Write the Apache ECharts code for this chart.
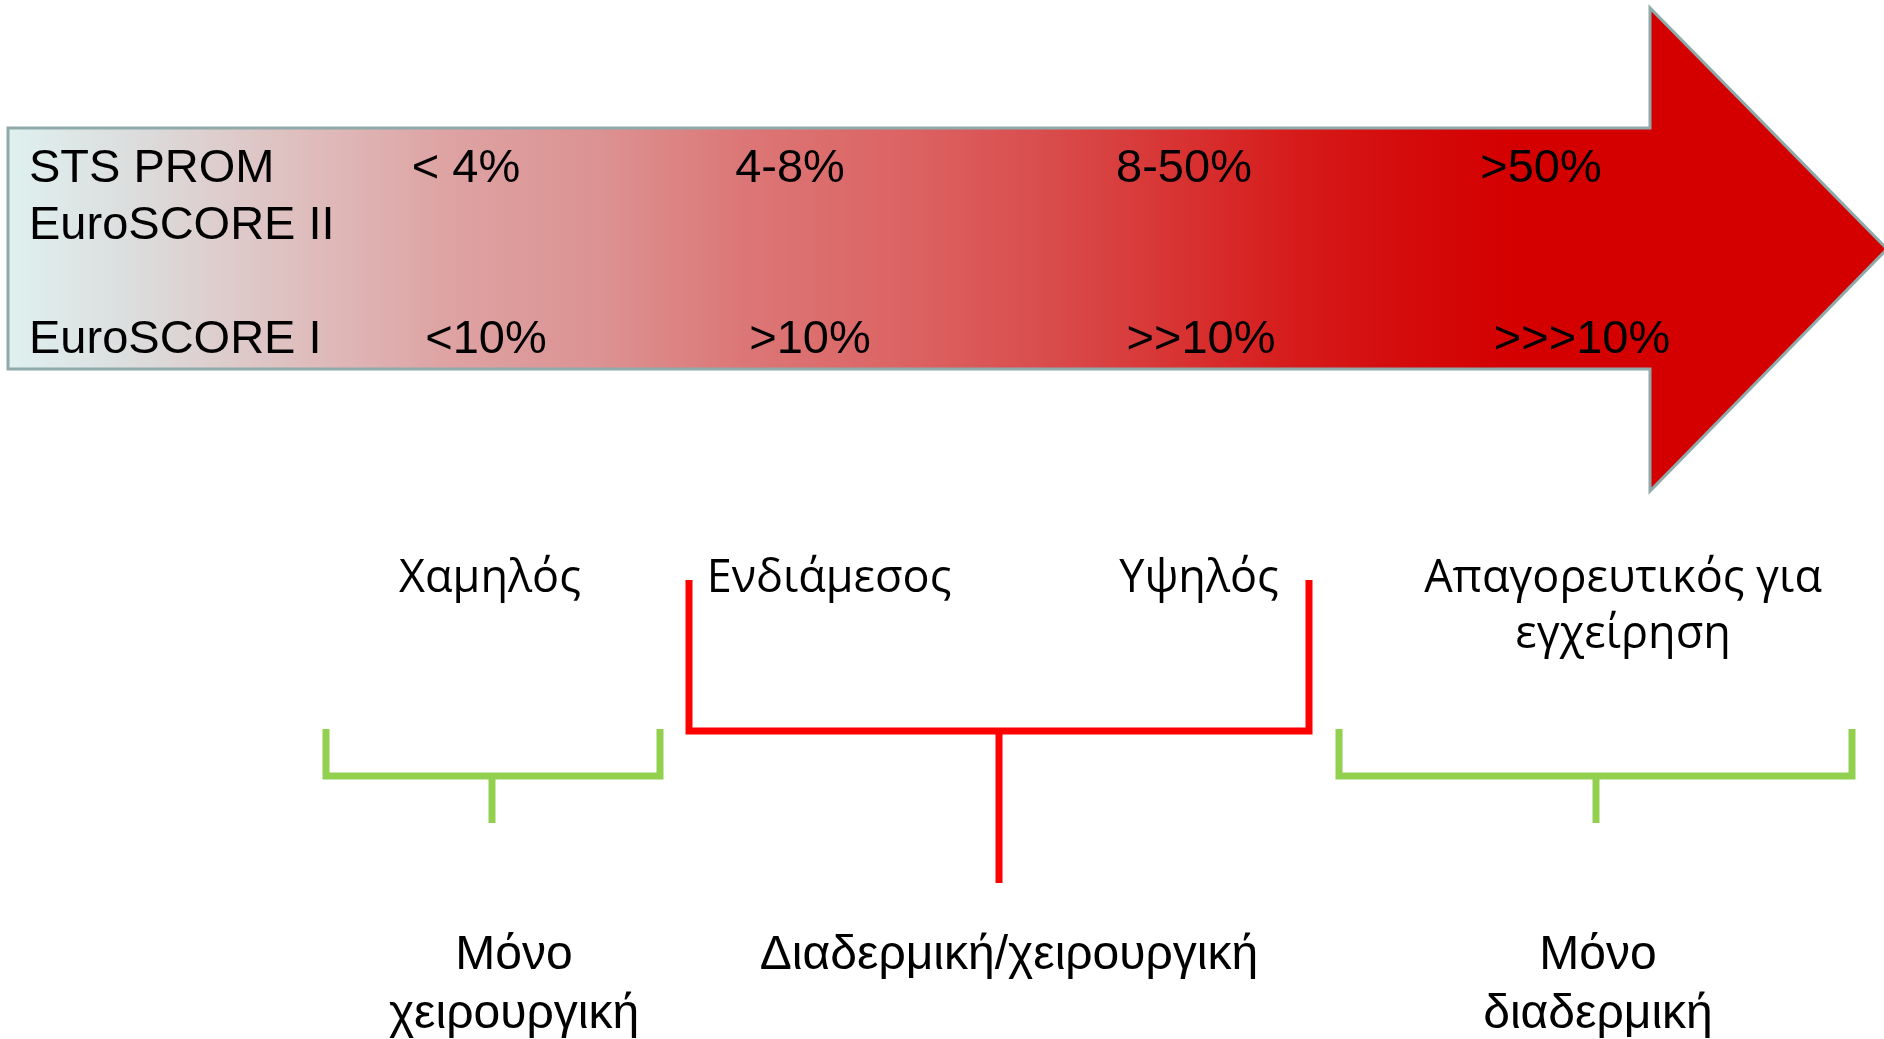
<!DOCTYPE html>
<html>
<head>
<meta charset="utf-8">
<script src="https://cdn.jsdelivr.net/npm/echarts@6/dist/echarts.min.js"></script>
<style>
  html, body { margin: 0; padding: 0; background: #fff; }
  #main { width: 1884px; height: 1039px; }
</style>
</head>
<body>
<div id="main"></div>
<script>
// ---- texts ----
var scoreNames = ['STS PROM', 'EuroSCORE II', 'EuroSCORE I'];
var stsRanges = ['< 4%', '4-8%', '8-50%', '>50%'];
var euroScoreIRanges = ['<10%', '>10%', '>>10%', '>>>10%'];
var riskLevels = ['Χαμηλός', 'Ενδιάμεσος', 'Υψηλός', 'Απαγορευτικός για\nεγχείρηση'];
var treatments = ['Μόνο\nχειρουργική', 'Διαδερμική/χειρουργική', 'Μόνο\nδιαδερμική'];

// ---- layout, in page units on hidden axes (x 0..1884, y 0..1039 downwards) ----
var arrowOutline = [[8, 128], [1650, 128], [1650, 8], [1887, 249], [1650, 491], [1650, 369], [8, 369]];
var scoreNameAt = [[29, 182], [29, 239], [29, 353]];
var stsAt = [[466, 182], [790, 182], [1184, 182], [1541, 182]];
var euroIAt = [[486, 353], [810, 353], [1201, 353], [1582, 353]];
var riskAt = [[490, 592], [829, 592], [1199, 592], [1623, 592]];
var treatmentAt = [[514, 969], [1009, 969], [1598, 969]];

var redBracket = [[689, 580], [689, 731], [1309, 731], [1309, 580]];
var redStem = [[999, 731], [999, 883]];
var greenLeft = [[326, 729], [326, 776], [660, 776], [660, 729]];
var greenLeftStem = [[492, 776], [492, 823]];
var greenRight = [[1339, 729], [1339, 776], [1852, 776], [1852, 729]];
var greenRightStem = [[1596, 776], [1596, 823]];

var arrowStops = [
    [0, '#dff1f0'], [0.067, '#dcdddd'], [0.162, '#dfbcbc'], [0.233, '#dea3a3'],
    [0.316, '#dc9292'], [0.387, '#dc7878'], [0.482, '#dc6262'], [0.553, '#d94c4c'],
    [0.625, '#d83232'], [0.687, '#d61a1a'], [0.74, '#d40c0c'], [0.8, '#d40000'], [1, '#d40000']
];

var RED = '#ff0000';
var GREEN = '#92d050';

var myChart = echarts.init(document.getElementById('main'));

function textItem(api, x, baseline, str, family, size, lineHeight, align) {
    var p = api.coord([x, baseline]);
    return {
        type: 'text',
        x: p[0],
        y: p[1] - size * 0.28 - lineHeight / 2,
        style: {
            text: str,
            fontFamily: family,
            fontSize: size,
            lineHeight: lineHeight,
            fill: '#000',
            align: align,
            verticalAlign: 'top'
        }
    };
}

function lineItem(api, pts, color, width) {
    return {
        type: 'polyline',
        shape: { points: pts.map(function (q) { return api.coord(q); }) },
        style: { stroke: color, lineWidth: width, fill: null, lineJoin: 'miter', lineCap: 'butt' }
    };
}

var arial = '"Liberation Sans", Arial, sans-serif';
var greekSans = '"Open Sans", "Noto Sans", sans-serif';

myChart.setOption({
    animation: false,
    grid: { left: 0, right: 0, top: 0, bottom: 0 },
    xAxis: { type: 'value', min: 0, max: 1884, show: false },
    yAxis: { type: 'value', min: 0, max: 1039, inverse: true, show: false },
    series: [{
        // arrow
        type: 'custom',
        data: [0],
        silent: true,
        renderItem: function (params, api) {
            return {
                type: 'polygon',
                shape: { points: arrowOutline.map(function (q) { return api.coord(q); }) },
                style: {
                    fill: new echarts.graphic.LinearGradient(0, 0, 1, 0, arrowStops.map(function (s) {
                        return { offset: s[0], color: s[1] };
                    })),
                    stroke: '#8eaaab',
                    lineWidth: 3
                }
            };
        }
    }, {
        // brackets
        type: 'custom',
        data: [0],
        silent: true,
        renderItem: function (params, api) {
            return {
                type: 'group',
                children: [
                    lineItem(api, redBracket, RED, 7),
                    lineItem(api, redStem, RED, 7),
                    lineItem(api, greenLeft, GREEN, 7),
                    lineItem(api, greenLeftStem, GREEN, 7),
                    lineItem(api, greenRight, GREEN, 7),
                    lineItem(api, greenRightStem, GREEN, 7)
                ]
            };
        }
    }, {
        // texts
        type: 'custom',
        data: [0],
        silent: true,
        renderItem: function (params, api) {
            var kids = [];
            scoreNames.forEach(function (t, i) {
                kids.push(textItem(api, scoreNameAt[i][0], scoreNameAt[i][1], t, arial, 47, 56, 'left'));
            });
            stsRanges.forEach(function (t, i) {
                kids.push(textItem(api, stsAt[i][0], stsAt[i][1], t, arial, 47, 56, 'center'));
            });
            euroScoreIRanges.forEach(function (t, i) {
                kids.push(textItem(api, euroIAt[i][0], euroIAt[i][1], t, arial, 47, 56, 'center'));
            });
            riskLevels.forEach(function (t, i) {
                kids.push(textItem(api, riskAt[i][0], riskAt[i][1], t, greekSans, 45, 56, 'center'));
            });
            treatments.forEach(function (t, i) {
                kids.push(textItem(api, treatmentAt[i][0], treatmentAt[i][1], t, arial, 48, 59, 'center'));
            });
            return { type: 'group', children: kids };
        }
    }]
});
</script>
</body>
</html>
